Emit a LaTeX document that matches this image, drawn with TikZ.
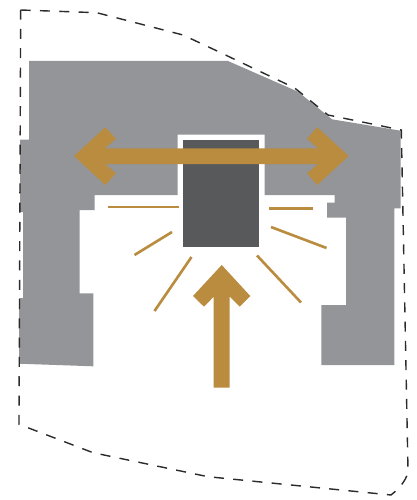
\documentclass[tikz,border=0pt]{standalone}
\definecolor{massgray}{HTML}{939598}
\definecolor{coredark}{HTML}{58595B}
\definecolor{flowgold}{HTML}{B98C3F}
\definecolor{sitedash}{HTML}{2B2B2B}
\begin{document}
\begin{tikzpicture}[x=0.02cm,y=-0.02cm,mass/.style={fill=massgray,draw=none},core/.style={fill=coredark,draw=none},flowarrow/.style={fill=flowgold,draw=none},ray/.style={draw=flowgold,line width=1.5pt},siteline/.style={draw=sitedash,line width=0.8pt,dash pattern=on 0.2cm off 0.186cm}]
\useasboundingbox (0,0) rectangle (416,500);
% building mass
\fill[mass] (29,61) -- (29,139.5) -- (20,139.5) -- (20,212) -- (23,212) -- (23,298) -- (19,298) -- (19,363.7) -- (93.3,366.3) -- (93.3,293.3) -- (79.5,293.3) -- (79.5,210) -- (94.7,210) -- (94.7,195) -- (177.7,195) -- (177.7,134.5) -- (264.7,134.5) -- (264.7,195) -- (334.7,195) -- (334.7,202.7) -- (327,202.7) -- (327,217.7) -- (346,217.7) -- (346,305) -- (321.3,305) -- (321.3,365) -- (394.3,365) -- (394.3,208.3) -- (400.7,208.3) -- (400.7,130.7) -- (332,119.3) -- (298,91.7) -- (228,61) -- cycle;
\fill[core] (183,140) rectangle (259,247);
% site boundary
\draw[siteline] (20.7,10) -- (96.7,12.7) -- (183,35) -- (215,50) -- (294.7,88) -- (328,115) -- (401.3,130) -- (408,470) .. controls (408,478) and (400,488) .. (391,495) -- (208,476.7) -- (93,452.7) -- (19,424.3) -- cycle;
% rays
\draw[ray] (107.5,207) -- (179,207); \draw[ray] (269,208.3) -- (313,208.3);
\draw[ray] (172,232) -- (134.5,255); \draw[ray] (271,227) -- (326.5,248);
\draw[ray] (191.5,257) -- (154.5,311); \draw[ray] (257,255.5) -- (301,302.5);
% arrows
\fill[flowarrow] (74,156) -- (105.3,127.3) -- (116,138.7) -- (105,148.3) -- (318,148.3) -- (307,138.7) -- (317.3,127.3) -- (348.7,156) -- (317.3,185) -- (307,173.3) -- (318,164) -- (105,164) -- (116,173.3) -- (105.3,185) -- cycle;
\fill[flowarrow] (221.7,265) -- (250.3,296) -- (239.7,306.7) -- (229.7,296.7) -- (229.7,387.7) -- (213.7,387.7) -- (213.7,296.7) -- (204,306.7) -- (193,296) -- cycle;
\end{tikzpicture}
\end{document}
